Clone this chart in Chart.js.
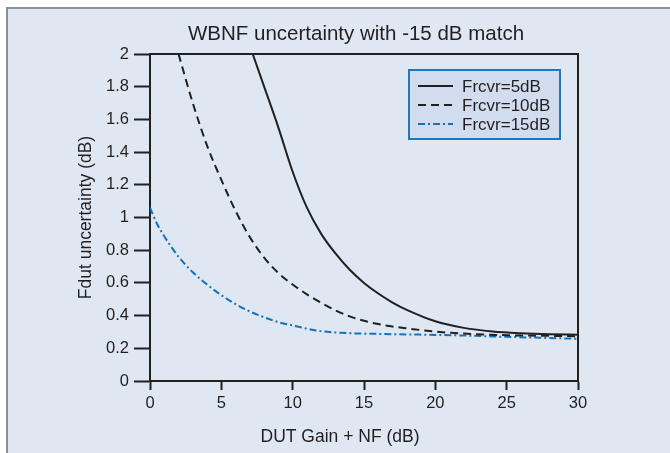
<!DOCTYPE html>
<html>
<head>
<meta charset="utf-8">
<script src="https://cdn.jsdelivr.net/npm/chart.js@4.4.1/dist/chart.umd.min.js"></script>
<style>
  html, body { margin: 0; padding: 0; background: #ffffff; }
  #wrap { position: relative; width: 670px; height: 453px; overflow: hidden; }
  #panel { position: absolute; left: 6px; top: 7px; right: 0; bottom: 0;
           background: #dfe7f2; border-left: 2px solid #8e8e8e; border-top: 2px solid #8e8e8e; }
  #c { position: absolute; left: 0; top: 0; }
</style>
</head>
<body>
<div id="wrap">
  <div id="panel"></div>
  <canvas id="c" width="670" height="453"></canvas>
</div>
<script>
// ---- data ----
const titleText = 'WBNF uncertainty with -15 dB match';
const xTitle = 'DUT Gain + NF (dB)';
const yTitle = 'Fdut uncertainty (dB)';
const seriesNames = ['Frcvr=5dB', 'Frcvr=10dB', 'Frcvr=15dB'];

const xTicks = [0, 5, 10, 15, 20, 25, 30];
const yTicks = [0, 0.2, 0.4, 0.6, 0.8, 1, 1.2, 1.4, 1.6, 1.8, 2];

const xSolid = [7.2, 8, 9, 10, 11, 12, 13, 14, 15, 16, 17, 18, 20, 22, 24, 26, 28, 30];
const ySolid = [2.0, 1.80, 1.55, 1.28, 1.06, 0.90, 0.78, 0.68, 0.60, 0.535, 0.48, 0.435, 0.365, 0.325, 0.303, 0.292, 0.286, 0.283];

const xDash = [2, 3, 4, 5, 6, 7, 8, 9, 10, 11, 12, 13, 14, 15, 16, 17, 18, 20, 22, 25, 28, 30];
const yDash = [2.0, 1.70, 1.44, 1.23, 1.04, 0.88, 0.755, 0.66, 0.59, 0.53, 0.478, 0.432, 0.395, 0.368, 0.348, 0.333, 0.322, 0.302, 0.29, 0.28, 0.276, 0.274];

const xBlue = [0, 0.5, 1, 1.5, 2, 3, 4, 5, 6, 7, 8, 9, 10, 11, 12, 13, 14, 16, 18, 20, 22, 25, 28, 30];
const yBlue = [1.06, 0.96, 0.885, 0.82, 0.76, 0.665, 0.59, 0.525, 0.47, 0.425, 0.39, 0.36, 0.34, 0.32, 0.305, 0.297, 0.292, 0.288, 0.285, 0.282, 0.278, 0.27, 0.263, 0.258];

// ---- styling ----
const INK = '#231f20';
const BLUE = '#1672b8';
const FONT = '"Liberation Sans", Arial, Helvetica, sans-serif';

function pts(xs, ys) { return xs.map((x, i) => ({ x: x, y: ys[i] })); }

const datasets = [
  { label: seriesNames[0], data: pts(xSolid, ySolid), borderColor: INK, borderWidth: 2, borderDash: [] },
  { label: seriesNames[1], data: pts(xDash, yDash), borderColor: INK, borderWidth: 2, borderDash: [8, 5] },
  { label: seriesNames[2], data: pts(xBlue, yBlue), borderColor: BLUE, borderWidth: 2, borderDash: [7, 3, 2, 3] }
].map(d => Object.assign(d, { showLine: true, pointRadius: 0, fill: false, cubicInterpolationMode: 'monotone' }));

const decor = {
  id: 'decor',
  afterDatasetsDraw(chart) {
    const ctx = chart.ctx, a = chart.chartArea;
    ctx.save();
    // top and right frame
    ctx.strokeStyle = INK; ctx.lineWidth = 2;
    ctx.beginPath();
    ctx.moveTo(a.left, a.top); ctx.lineTo(a.right, a.top); ctx.lineTo(a.right, a.bottom);
    ctx.stroke();

    // legend box
    const bx = 409, by = 70, bw = 151, bh = 69;
    ctx.fillStyle = '#d1ddee';
    ctx.fillRect(bx, by, bw, bh);
    ctx.strokeStyle = '#2476b9'; ctx.lineWidth = 2;
    ctx.strokeRect(bx, by, bw, bh);
    ctx.font = '17px ' + FONT;
    ctx.textBaseline = 'middle'; ctx.textAlign = 'left';
    chart.data.datasets.forEach((ds, i) => {
      const y = by + 16 + i * 19;
      ctx.strokeStyle = ds.borderColor; ctx.lineWidth = 2;
      ctx.setLineDash(ds.borderDash || []);
      ctx.beginPath(); ctx.moveTo(418, y); ctx.lineTo(453, y); ctx.stroke();
      ctx.setLineDash([]);
      ctx.fillStyle = INK;
      ctx.fillText(ds.label, 462, y + 1);
    });

    // titles
    ctx.fillStyle = INK;
    ctx.textAlign = 'center'; ctx.textBaseline = 'middle';
    ctx.font = '20.5px ' + FONT;
    ctx.fillText(titleText, 356, 34);
    ctx.font = '17.5px ' + FONT;
    ctx.fillText(xTitle, 340, 437);
    ctx.translate(86, (a.top + a.bottom) / 2);
    ctx.rotate(-Math.PI / 2);
    ctx.fillText(yTitle, 0, 0);
    ctx.restore();
  }
};

new Chart(document.getElementById('c'), {
  type: 'scatter',
  data: { datasets: datasets },
  options: {
    responsive: false,
    animation: false,
    devicePixelRatio: 1,
    layout: { padding: { left: 0, top: 54, right: 92, bottom: 0 } },
    plugins: { legend: { display: false }, title: { display: false }, tooltip: { enabled: false } },
    scales: {
      x: {
        type: 'linear', min: 0, max: 30,
        afterBuildTicks: s => { s.ticks = xTicks.map(v => ({ value: v })); },
        afterFit: s => { s.height = 72; },
        ticks: { color: INK, font: { family: FONT, size: 16.5 }, padding: 4, maxRotation: 0 },
        grid: { drawOnChartArea: false, drawTicks: true, tickLength: 9, tickWidth: 2, tickColor: INK, color: INK },
        border: { display: true, color: INK, width: 2 }
      },
      y: {
        type: 'linear', min: 0, max: 2,
        afterBuildTicks: s => { s.ticks = yTicks.map(v => ({ value: v })); },
        afterFit: s => { s.width = 150; },
        ticks: { color: INK, font: { family: FONT, size: 16.5 }, padding: 5,
                 callback: v => String(Math.round(v * 10) / 10) },
        grid: { drawOnChartArea: false, drawTicks: true, tickLength: 16, tickWidth: 2, tickColor: INK, color: INK },
        border: { display: true, color: INK, width: 2 }
      }
    }
  },
  plugins: [decor]
});
</script>
</body>
</html>
